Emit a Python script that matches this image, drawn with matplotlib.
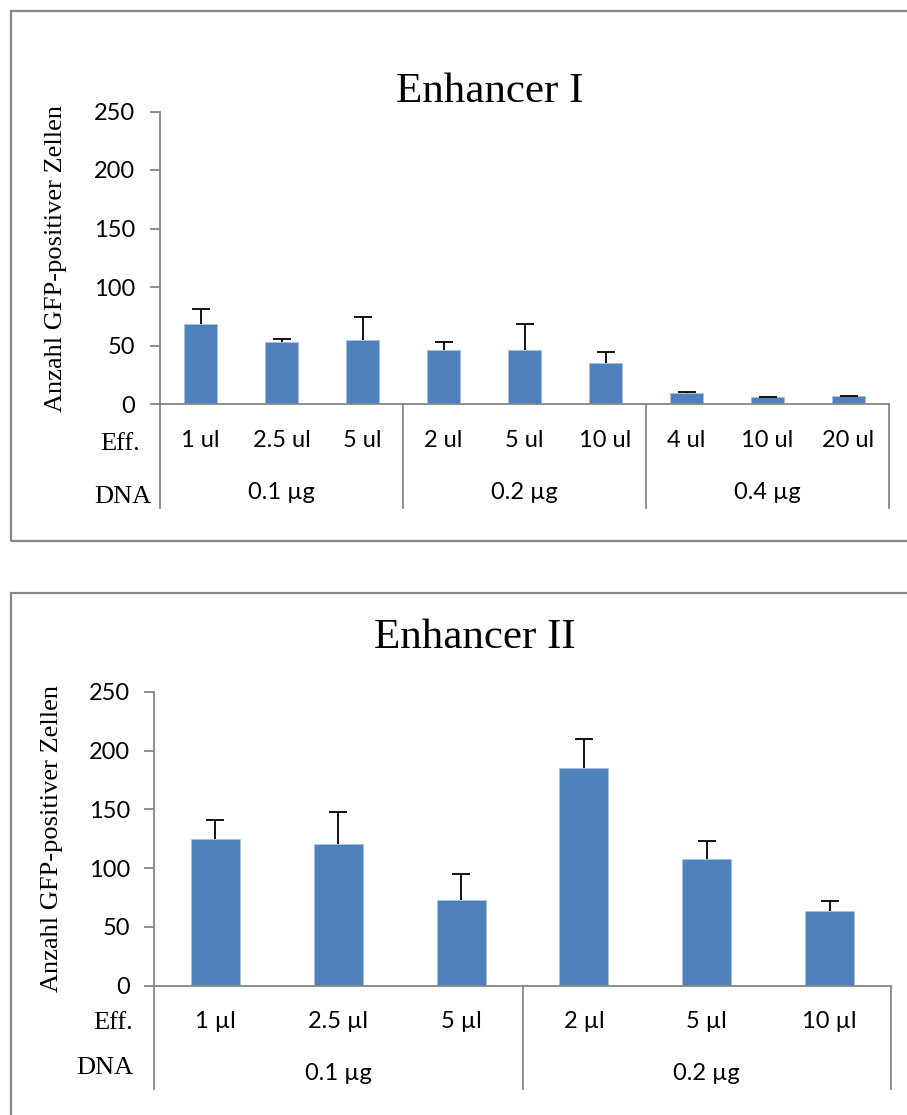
import matplotlib
matplotlib.use("Agg")
import matplotlib.pyplot as plt
from matplotlib.patches import Rectangle
from matplotlib.lines import Line2D
import numpy as np

# ---------------- data ----------------
eff1 = ["1 ul", "2.5 ul", "5 ul", "2 ul", "5 ul", "10 ul", "4 ul", "10 ul", "20 ul"]
dna1 = ["0.1 µg", "0.2 µg", "0.4 µg"]
vals1 = [68, 52.7, 54.5, 46, 46, 34.8, 9.7, 5.7, 6.8]
err1 = [13, 2.6, 20, 6.8, 22, 10, 0.4, 0.4, 0.4]

eff2 = ["1 µl", "2.5 µl", "5 µl", "2 µl", "5 µl", "10 µl"]
dna2 = ["0.1 µg", "0.2 µg"]
vals2 = [124.7, 120.6, 73.1, 184.9, 107.5, 63.5]
err2 = [16.3, 27, 22, 24.6, 15.5, 8.5]

yticks = [0, 50, 100, 150, 200, 250]
ylabel = "Anzahl GFP-positiver Zellen"
titles = ["Enhancer I", "Enhancer II"]

W, H = 907, 1115
BAR = "#4F81BD"
GRAY = "#868686"
SERIF = ["Liberation Serif", "DejaVu Serif"]
SANS = ["Lato", "DejaVu Sans"]

fig = plt.figure(figsize=(W / 100, H / 100), dpi=100)


def fx(x):
    return x / W


def fy(y):
    return 1 - y / H


# panel borders
for (x0, y0, x1, y1) in [(11, 11, 920, 541), (11, 593, 920, 1130)]:
    fig.patches.append(Rectangle((fx(x0), fy(y1)), fx(x1) - fx(x0), fy(y0) - fy(y1),
                                 transform=fig.transFigure, fill=False,
                                 edgecolor=GRAY, lw=1.6, zorder=0))


def panel(ax_px, vals, err, eff, dna, title, title_xy, ylab_xy,
          eff_y, dna_y, efflab_xy, dnalab_xy, line_bottom, tick_fs, tick_pad):
    x0, x1, yb, yt = ax_px
    ax = fig.add_axes([fx(x0), fy(yb), fx(x1) - fx(x0), fy(yt) - fy(yb)])
    n = len(vals)
    x = np.arange(n)
    ax.bar(x, vals, width=0.4, color=BAR, edgecolor="#A7C0DE", linewidth=0.6, zorder=2)
    eb = ax.errorbar(x, vals, yerr=[np.zeros(n), err], fmt="none", ecolor="black",
                     elinewidth=1.3, capsize=6.5, capthick=1.3, zorder=3)
    caplines = eb[1]
    if len(caplines) >= 2:
        caplines[0].set_visible(False)
    ax.set_xlim(-0.5, n - 0.5)
    ax.set_ylim(0, 250)
    ax.set_yticks(yticks)
    ax.set_yticklabels([str(t) for t in yticks], family=SANS, fontsize=tick_fs)
    ax.set_xticks([])
    for s in ["top", "right"]:
        ax.spines[s].set_visible(False)
    for s in ["left", "bottom"]:
        ax.spines[s].set_color(GRAY)
        ax.spines[s].set_linewidth(1.3)
    ax.tick_params(axis="y", direction="out", length=7, width=1.3, color=GRAY, pad=tick_pad)
    ax.patch.set_alpha(0)

    hpx = yb - yt

    def af(ypix):
        return (yb - ypix) / hpx

    # divider lines below the axis
    ngroups = len(dna)
    per = n // ngroups
    for k in range(ngroups + 1):
        xd = -0.5 + k * per
        ax.add_line(Line2D([xd, xd], [0, af(line_bottom)],
                           transform=ax.get_xaxis_transform(), color=GRAY,
                           lw=1.3, clip_on=False))
    for i, lab in enumerate(eff):
        ax.text(i, af(eff_y), lab, transform=ax.get_xaxis_transform(),
                ha="center", va="center", family=SANS, fontsize=tick_fs)
    for k, lab in enumerate(dna):
        ax.text(-0.5 + per * (k + 0.5), af(dna_y), lab, transform=ax.get_xaxis_transform(),
                ha="center", va="center", family=SANS, fontsize=tick_fs)

    fig.text(fx(title_xy[0]), fy(title_xy[1]), title, ha="center", va="center",
             family=SERIF, fontsize=31)
    fig.text(fx(ylab_xy[0]), fy(ylab_xy[1]), ylabel, ha="center", va="center",
             rotation=90, family=SERIF, fontsize=19)
    fig.text(fx(efflab_xy[0]), fy(efflab_xy[1]), "Eff.", ha="right", va="center",
             family=SERIF, fontsize=19)
    fig.text(fx(dnalab_xy[0]), fy(dnalab_xy[1]), "DNA", ha="right", va="center",
             family=SERIF, fontsize=19)
    return ax


panel((160, 889, 404, 111.5), vals1, err1, eff1, dna1, titles[0],
      (490, 92), (56, 258), 440, 492, (140, 444), (151, 497), 508, 17, 11)
panel((154, 891, 985.7, 691.7), vals2, err2, eff2, dna2, titles[1],
      (475, 638), (52, 839), 1022, 1073, (133, 1023), (133, 1068), 1089, 17, 10)

fig.savefig("out.png", dpi=100)
